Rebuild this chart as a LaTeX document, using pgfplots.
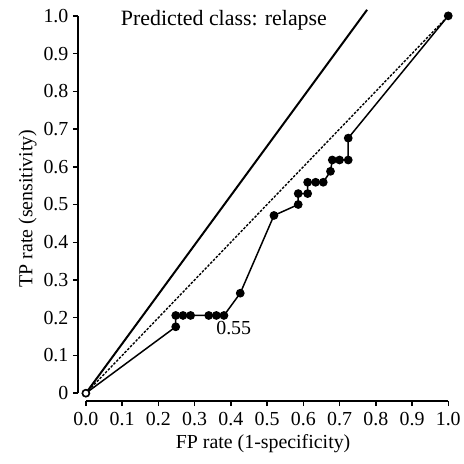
\documentclass[border=0pt]{standalone}
\usepackage{fontspec}
\setmainfont{Liberation Serif}
\usepackage{pgfplots}
\pgfplotsset{compat=1.18}
\newcommand{\ff}{\fontsize{20}{23}\selectfont}
\newcommand{\tf}{\fontsize{22}{25}\selectfont}
\begin{document}
\begin{tikzpicture}
\begin{axis}[
  scale only axis, width=371bp, height=386bp,
  xmin=-0.02204, xmax=1, ymin=-0.02116, ymax=1,
  axis x line=bottom, axis y line=left,
  axis line style={-},
  x axis line style={-, line width=1.5bp, shorten <=8bp},
  y axis line style={-, line width=1.5bp, shorten <=8bp},
  xtick={0,0.1,0.2,0.3,0.4,0.5,0.6,0.7,0.8,0.9,1},
  xticklabels={0.0,0.1,0.2,0.3,0.4,0.5,0.6,0.7,0.8,0.9,1.0},
  ytick={0,0.1,0.2,0.3,0.4,0.5,0.6,0.7,0.8,0.9,1},
  yticklabels={0,0.1,0.2,0.3,0.4,0.5,0.6,0.7,0.8,0.9,1.0},
  tick align=outside, major tick length=5bp,
  tick style={line width=1.5bp, black},
  xticklabel style={font=\ff, yshift=-3bp},
  yticklabel style={font=\ff, xshift=-1bp},
  xlabel={FP rate (1-specificity)},
  ylabel={TP rate (sensitivity)},
  xlabel style={font=\ff, yshift=-1bp},
  ylabel style={font=\ff},
  clip=false,
]
\path (axis cs:-0.237,-0.185) rectangle (axis cs:1.033,1.042);
\addplot[black, line width=1.4bp, dash pattern=on 2.5bp off 1.5bp] coordinates {(0,0) (1,1)};
\addplot[black, line width=2bp] coordinates {(0,0) (0.776,1.016)};
\addplot[black, line width=1.5bp, mark=*, mark size=3.6bp, mark options={solid}] coordinates {
(0,0) (0.248,0.176) (0.248,0.206) (0.268,0.206) (0.289,0.206) (0.339,0.206) (0.360,0.206) (0.381,0.206)
(0.426,0.265) (0.519,0.471) (0.586,0.500) (0.586,0.529) (0.612,0.529) (0.612,0.559) (0.634,0.559)
(0.655,0.559) (0.675,0.588) (0.680,0.618) (0.700,0.618) (0.724,0.618) (0.724,0.676) (1,1)};
\addplot[black, only marks, mark=*, mark size=3.3bp, mark options={fill=white, line width=1.2bp}] coordinates {(0,0)};
\node[font=\tf, anchor=base west] at (axis cs:0.087,0.974) {Predicted class: relapse};
\node[font=\ff] at (axis cs:0.408,0.172) {0.55};
\end{axis}
\end{tikzpicture}
\end{document}
